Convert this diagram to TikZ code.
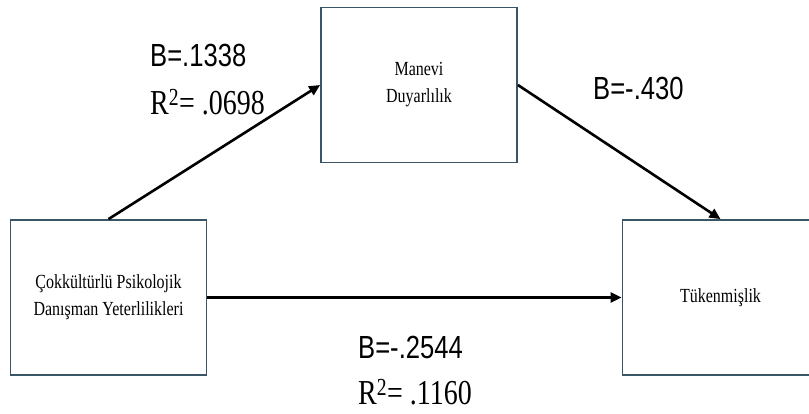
\documentclass[tikz,border=0pt]{standalone}
\usepackage{fontspec}
\setmainfont{Liberation Serif}[FakeStretch=0.8]
\newfontfamily\coeffont{Liberation Sans}[FakeStretch=0.8]
\usepackage{tikz}
\usetikzlibrary{arrows.meta,positioning}
\definecolor{BoxSlate}{HTML}{3A5566}

\tikzset{
    varbox/.style={draw=BoxSlate, line width=1.8pt, fill=white, minimum width=196pt, minimum height=155pt, align=center, font=\fontsize{20}{27}\selectfont},
    path/.style={line width=2.6pt, -{Triangle[length=11pt,width=10pt]}},
    coef/.style={anchor=base west, inner sep=0pt, font=\coeffont\fontsize{32}{32}\selectfont},
    rsq/.style={anchor=base west, inner sep=0pt, font=\fontsize{35}{35}\selectfont}
}

\begin{document}
\begin{tikzpicture}[x=1pt,y=1pt]
        \clip (0,0) rectangle (809,414);
        \fill[white] (0,0) rectangle (809,414);

        \node[varbox] (cpd) at (108.5,116.5) {Çokkültürlü Psikolojik\\Danışman Yeterlilikleri};
        \node[varbox] (md) at (419,329) {Manevi\\Duyarlılık};
        \node[varbox] (tk) at (720.5,116.5) {Tükenmişlik};

        \draw[path] (cpd.north) -- (md.west);
        \draw[path] (md.east) -- (tk.north);
        \draw[path] (cpd.east) -- (tk.west);

        \node[coef] (b1) at (150,347) {B=.1338};
        \node[rsq] (r1) at (150,299) {R\textsuperscript{2}= .0698};
        \node[coef] (b2) at (593,314) {B=-.430};
        \node[coef] (b3) at (358,55) {B=-.2544};
        \node[rsq] (r3) at (358,9) {R\textsuperscript{2}= .1160};
    \end{tikzpicture}
\end{document}
